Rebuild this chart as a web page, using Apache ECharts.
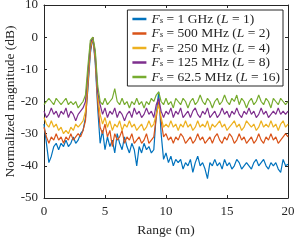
<!DOCTYPE html>
<html><head><meta charset="utf-8">
<script src="https://cdn.jsdelivr.net/npm/echarts@6/dist/echarts.min.js"></script>
<style>html,body{margin:0;padding:0;background:#fff}#c{width:296px;height:242px}</style>
</head><body><div id="c"></div>
<script>
var seriesNames = ['Fs = 1 GHz (L = 1)','Fs = 500 MHz (L = 2)','Fs = 250 MHz (L = 4)','Fs = 125 MHz (L = 8)','Fs = 62.5 MHz (L = 16)'];
var legendRich = [
  '{i|F}{s|s}{n| = 1 GHz (}{i|L}{n| = 1)}',
  '{i|F}{s|s}{n| = 500 MHz (}{i|L}{n| = 2)}',
  '{i|F}{s|s}{n| = 250 MHz (}{i|L}{n| = 4)}',
  '{i|F}{s|s}{n| = 125 MHz (}{i|L}{n| = 8)}',
  '{i|F}{s|s}{n| = 62.5 MHz (}{i|L}{n| = 16)}'
];
var colors = ['#0072BD','#D95319','#EDB120','#7E2F8E','#77AC30'];
var xTicks = [0,5,10,15,20];
var yTicks = [-50,-40,-30,-20,-10,0,10];
var rangeStep = 0.2; // metres between samples

var mag1GHz = [-27,-33,-39,-37,-34,-33,-35,-33,-34,-32,-34,-33,-31,-33,-32,-30,-29,-25,-16,-5,0,-8,-22,-33,-29,-35,-31,-34,-32,-36,-30,-33,-35,-31,-34,-36,-33,-35,-40,-34,-36,-33,-35,-34,-36,-35,-24,-17,-30,-38,-36,-39,-37,-40,-38,-39,-38,-41,-39,-40,-38,-42,-39,-37,-40,-39,-41,-44,-39,-40,-38,-40,-39,-41,-38,-40,-39,-41,-40,-38,-39,-41,-40,-39,-40,-41,-39,-38,-40,-39,-38,-40,-41,-39,-40,-39,-41,-42,-38,-40,-39.5];
var mag500 = [-28,-31,-33,-31,-32,-30,-32,-31,-33,-31,-32,-30,-32,-31,-30,-31,-29,-26,-15,-4,0,-7,-20,-28,-30,-27,-31,-29,-34,-30,-32,-31,-29,-33,-31,-32,-30,-33,-32,-31,-33,-32,-30,-33,-32,-31,-25,-20,-26,-31,-30,-32,-31,-33,-31,-32,-30,-31,-33,-32,-31,-33,-32,-30,-32,-31,-33,-32,-31,-33,-31,-30,-32,-33,-31,-32,-30,-31,-33,-32,-30,-32,-31,-33,-32,-31,-33,-32,-30,-32,-33,-31,-32,-30,-32,-31,-33,-32,-31,-30,-31];
var mag250 = [-25,-27,-28,-26,-28,-27,-29,-28,-30,-29,-30,-28,-29,-27,-28,-27,-26,-23,-13,-3,0,-6,-18,-24,-27,-25,-28,-26,-29,-27,-28,-26,-29,-27,-28,-26,-28,-27,-29,-28,-27,-29,-28,-26,-28,-27,-24,-21,-25,-28,-27,-28,-26,-28,-27,-29,-27,-28,-26,-28,-27,-29,-28,-26,-28,-27,-28,-26,-29,-27,-28,-27,-26,-28,-27,-29,-28,-27,-26,-28,-27,-29,-28,-26,-27,-28,-27,-29,-28,-26,-28,-27,-28,-26,-28,-27,-29,-27,-26,-28,-27];
var mag125 = [-23,-25,-24,-22,-24,-23,-25,-23,-24,-22,-25,-23,-24,-26,-24,-23,-22,-20,-11,-2,0,-5,-17,-21,-24,-22,-25,-23,-24,-22,-25,-23,-24,-26,-24,-23,-25,-22,-24,-23,-25,-24,-22,-24,-23,-25,-21,-19,-23,-25,-23,-24,-22,-25,-23,-24,-22,-25,-24,-23,-25,-23,-22,-24,-25,-23,-24,-22,-25,-24,-23,-25,-24,-22,-24,-23,-25,-23,-24,-22,-24,-25,-23,-24,-22,-24,-23,-25,-24,-22,-24,-23,-25,-24,-23,-24,-22,-24,-23,-24,-23];
var mag62 = [-21,-20,-19,-20,-21,-19,-20,-21,-20,-19,-21,-20,-21,-20,-22,-21,-20,-18,-9,-1,0,-4,-15,-20,-21,-19,-21,-20,-19,-16,-20,-21,-19,-21,-20,-22,-20,-21,-19,-21,-20,-22,-20,-21,-19,-20,-18,-17,-20,-21,-19,-21,-20,-22,-19,-20,-21,-19,-20,-22,-20,-19,-21,-20,-18,-20,-21,-19,-20,-22,-20,-19,-21,-20,-18,-20,-21,-19,-20,-18,-21,-19,-20,-22,-20,-19,-21,-20,-18,-20,-21,-19,-20,-22,-19,-20,-21,-19,-20,-21,-20];

var allMags = [mag1GHz, mag500, mag250, mag125, mag62];
function pairs(arr){ return arr.map(function(v,i){ return [+(i*rangeStep).toFixed(2), v]; }); }

var font = 'Liberation Serif';
var axisCol = '#262626';
var chart = echarts.init(document.getElementById('c'), null, {renderer:'canvas'});
var series = allMags.map(function(m, k){
  return {name: seriesNames[k], type:'line', data: pairs(m), showSymbol:false, symbol:'none',
    lineStyle:{width:1.2, color: colors[k]}, itemStyle:{color: colors[k]}, animation:false, z: 2+k};
});
var baseAxisLine = {onZero:false, lineStyle:{color:axisCol, width:1}};
var fs = 13.5;
var lh = 12;
chart.setOption({
  animation:false,
  grid:{left:44, right:8, top:5, bottom:44, show:false, containLabel:false, outerBoundsMode:'none'},
  legend:{
    orient:'vertical', right:13, top:10, itemGap:0.5, itemWidth:14, itemHeight:2.5, icon:'rect',
    padding:[2,3,2,5], borderColor:axisCol, borderWidth:1, backgroundColor:'#fff',
    data: seriesNames,
    formatter: function(name){ return legendRich[seriesNames.indexOf(name)]; },
    textStyle:{fontFamily:font, fontSize:fs, color:axisCol, lineHeight:lh,
      rich:{
        i:{fontFamily:font, fontSize:fs, fontStyle:'italic', color:axisCol, lineHeight:lh},
        s:{fontFamily:font, fontSize:9, fontStyle:'italic', color:axisCol, verticalAlign:'bottom', lineHeight:lh, padding:[3,0,0,0]},
        n:{fontFamily:font, fontSize:fs, color:axisCol, lineHeight:lh}
      }}
  },
  xAxis:[{
    type:'value', min:0, max:20, interval:5, position:'bottom',
    name:'Range (m)', nameLocation:'middle', nameGap:25, nameMoveOverlap:false,
    nameTextStyle:{fontFamily:font, fontSize:13.5, color:axisCol},
    axisLine:baseAxisLine, axisTick:{inside:true, length:3, lineStyle:{color:axisCol}},
    axisLabel:{fontFamily:font, fontSize:13, color:axisCol, margin:7, formatter:function(v){return xTicks.indexOf(v)>=0?String(v):'';}},
    splitLine:{show:false}
  },{
    type:'value', min:0, max:20, interval:5, position:'top',
    axisLine:baseAxisLine, axisTick:{inside:true, length:3, lineStyle:{color:axisCol}},
    axisLabel:{show:false}, splitLine:{show:false}
  }],
  yAxis:[{
    type:'value', min:-50, max:10, interval:10, position:'left',
    name:'Normalized magnitude (dB)', nameLocation:'middle', nameGap:27, nameMoveOverlap:false,
    nameTextStyle:{fontFamily:font, fontSize:13.5, color:axisCol},
    axisLine:baseAxisLine, axisTick:{inside:true, length:3, lineStyle:{color:axisCol}},
    axisLabel:{fontFamily:font, fontSize:13, color:axisCol, margin:6, formatter:function(v){return yTicks.indexOf(v)>=0?String(v):'';}},
    splitLine:{show:false}
  },{
    type:'value', min:-50, max:10, interval:10, position:'right',
    axisLine:baseAxisLine, axisTick:{inside:true, length:3, lineStyle:{color:axisCol}},
    axisLabel:{show:false}, splitLine:{show:false}
  }],
  series: series
});
</script></body></html>
